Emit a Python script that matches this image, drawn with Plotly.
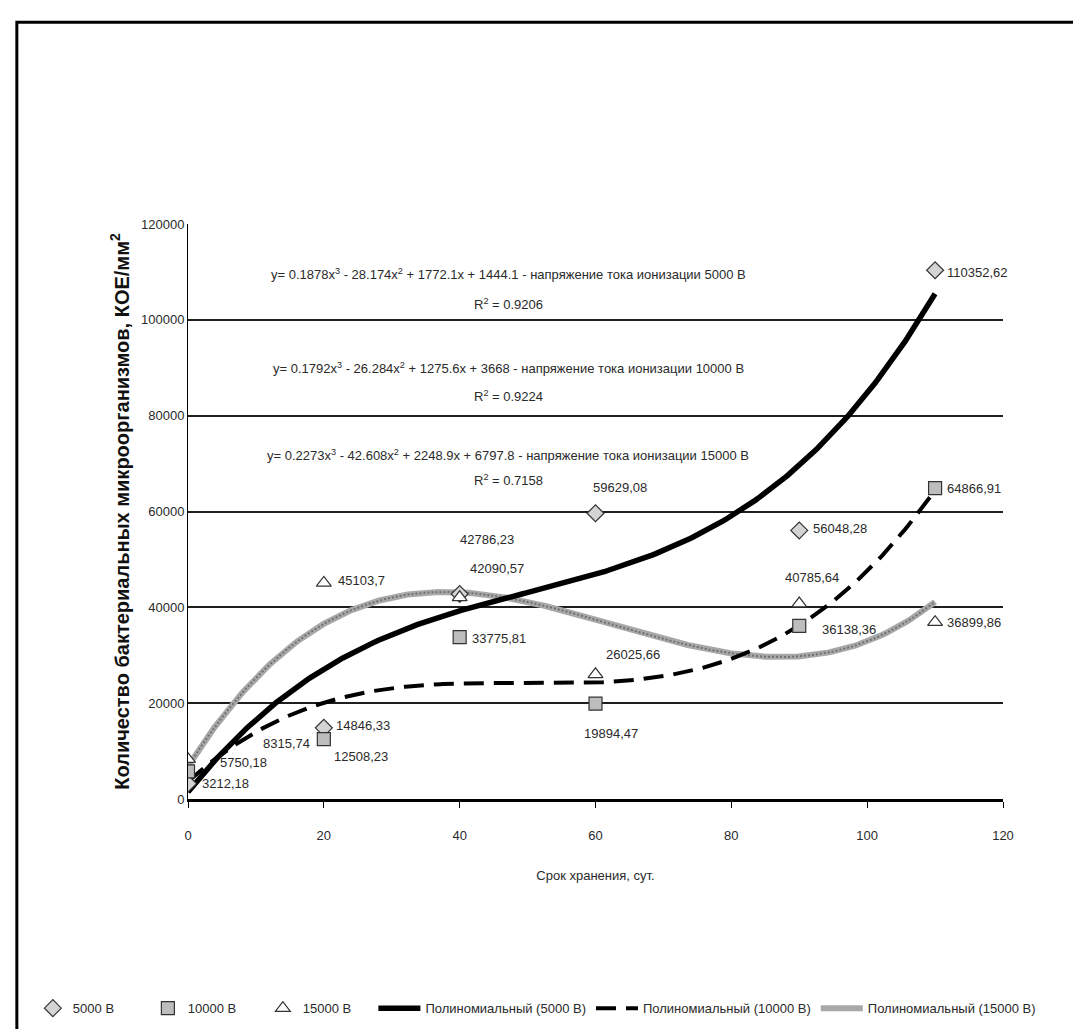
import numpy as np
import plotly.graph_objects as go

# ---------------- data ----------------
days = [0, 20, 40, 60, 90, 110]
y_5000 = [3212.18, 14846.33, 42786.23, 59629.08, 56048.28, 110352.62]
y_10000 = [5750.18, 12508.23, 33775.81, 19894.47, 36138.36, 64866.91]
y_15000 = [8315.74, 45103.7, 42090.57, 26025.66, 40785.64, 36899.86]

# printed trend-line coefficients (x^3, x^2, x, const) and R^2
coef_5000 = [0.1878, -28.174, 1772.1, 1444.1]
coef_10000 = [0.1792, -26.284, 1275.6, 3668]
coef_15000 = [0.2273, -42.608, 2248.9, 6797.8]
r2_values = ["0.9206", "0.9224", "0.7158"]
coef_text = [
    ("0.1878", "28.174", "1772.1", "1444.1", "5000"),
    ("0.1792", "26.284", "1275.6", "3668", "10000"),
    ("0.2273", "42.608", "2248.9", "6797.8", "15000"),
]

series_names = ["5000 В", "10000 В", "15000 В"]
trend_names = ["Полиномиальный (5000 В)", "Полиномиальный (10000 В)", "Полиномиальный (15000 В)"]
x_ticks = [0, 20, 40, 60, 80, 100, 120]
y_ticks = [0, 20000, 40000, 60000, 80000, 100000, 120000]

FONT = "Liberation Sans, Arial, sans-serif"
TXT = "#2a2a2a"

fig = go.Figure()

# ---------------- trend lines (drawn first, under markers) ----------------
xs = np.linspace(0, 110, 300)
fig.add_trace(go.Scatter(x=xs, y=np.polyval(coef_15000, xs), mode="lines",
                         name=trend_names[2], legend="legend2", legendrank=6,
                         line=dict(color="#a8a8a8", width=6)))
fig.add_trace(go.Scatter(x=xs, y=np.polyval(coef_15000, xs), mode="lines",
                         showlegend=False, hoverinfo="skip",
                         line=dict(color="#707070", width=2, dash="2px,2px")))
fig.add_trace(go.Scatter(x=xs, y=np.polyval(coef_10000, xs), mode="lines",
                         name=trend_names[1], legend="legend2", legendrank=5,
                         line=dict(color="black", width=4, dash="20px,10px")))
fig.add_trace(go.Scatter(x=xs, y=np.polyval(coef_5000, xs), mode="lines",
                         name=trend_names[0], legend="legend2", legendrank=4,
                         line=dict(color="black", width=5.5)))

# ---------------- data markers ----------------
fig.add_trace(go.Scatter(x=days, y=y_5000, mode="markers", name=series_names[0], legendrank=1,
                         marker=dict(symbol="diamond", size=13, color="#d4d4d4",
                                     line=dict(color="#333333", width=1.2))))
fig.add_trace(go.Scatter(x=days, y=y_10000, mode="markers", name=series_names[1], legendrank=2,
                         marker=dict(symbol="square", size=13, color="#bdbdbd",
                                     line=dict(color="#333333", width=1.2))))
fig.add_trace(go.Scatter(x=days, y=y_15000, mode="markers", name=series_names[2], legendrank=3,
                         marker=dict(symbol="triangle-up", size=13, color="#ffffff",
                                     line=dict(color="#333333", width=1.2))))

# ---------------- data labels ----------------
def fmt(v):
    return str(v).replace(".", ",")

# pixel offsets (xshift, yshift) for each label, left anchored
offs_5000 = [(12, 0), (10, 2), (-2, 54), (-5, 26), (12, 2), (10, -2)]
offs_10000 = [(30, 9), (8, -17), (10, -1), (-14, -30), (21, -4), (10, 0)]
offs_15000 = [(73, 16), (12, 2), (8, 29), (8, 20), (-16, 26), (10, 0)]

annotations = []
for ys, offs in ((y_5000, offs_5000), (y_10000, offs_10000), (y_15000, offs_15000)):
    for xv, yv, (dx, dy) in zip(days, ys, offs):
        annotations.append(dict(x=xv, y=yv, xref="x", yref="y", text=fmt(yv), showarrow=False,
                                xanchor="left", yanchor="middle", xshift=dx, yshift=dy,
                                font=dict(family=FONT, size=13, color=TXT)))

# ---------------- equation texts ----------------
eq_y = [(0.930, 0.878), (0.767, 0.718), (0.598, 0.554)]
for (a, b, c, d, v), r2, (yl, yr) in zip(coef_text, r2_values, eq_y):
    annotations.append(dict(x=0.393, y=yl, xref="paper", yref="paper", showarrow=False,
                            text=f"y= {a}x<sup>3</sup> - {b}x<sup>2</sup> + {c}x + {d} - напряжение тока ионизации {v} В",
                            font=dict(family=FONT, size=13, color=TXT)))
    annotations.append(dict(x=0.393, y=yr, xref="paper", yref="paper", showarrow=False,
                            text=f"R<sup>2</sup> = {r2}",
                            font=dict(family=FONT, size=13, color=TXT)))

fig.update_layout(
    width=1081, height=1029,
    margin=dict(l=180, r=86, t=216, b=238, autoexpand=False),
    paper_bgcolor="white", plot_bgcolor="white",
    font=dict(family=FONT, size=13, color=TXT),
    annotations=annotations,
    showlegend=True,
    legend=dict(orientation="h", xref="container", yref="container",
                x=0.023, y=0.028, xanchor="left", yanchor="middle",
                font=dict(family=FONT, size=13, color=TXT), itemwidth=30,
                entrywidth=70, entrywidthmode="pixels",
                bgcolor="rgba(0,0,0,0)", traceorder="normal"),
    legend2=dict(orientation="h", xref="container", yref="container",
                 x=0.338, y=0.028, xanchor="left", yanchor="middle",
                 font=dict(family=FONT, size=13, color=TXT), itemwidth=42,
                 bgcolor="rgba(0,0,0,0)", traceorder="normal"),
    shapes=[dict(type="rect", xref="paper", yref="paper",
                 x0=-0.21, x1=1.13, y0=-0.45, y1=1.351,
                 line=dict(color="black", width=3))],
    xaxis=dict(range=[0, 120], tickvals=x_ticks, ticks="outside", ticklen=6,
               tickcolor="black", showline=True, linecolor="black", linewidth=3,
               showgrid=False, zeroline=False, ticklabelstandoff=16,
               tickfont=dict(family=FONT, size=13, color=TXT),
               title=dict(text="Срок хранения, сут.", standoff=30,
                          font=dict(family=FONT, size=13, color=TXT))),
    yaxis=dict(range=[0, 120000], tickvals=y_ticks, tickformat="d",
               showgrid=True, gridcolor="#1e1e1e", gridwidth=2,
               showline=True, linecolor="black", linewidth=1, zeroline=False,
               ticks="", tickfont=dict(family=FONT, size=13, color=TXT),
               title=dict(text="Количество бактериальных микроорганизмов, КОЕ/мм<sup>2</sup>",
                          standoff=6,
                          font=dict(family=FONT, size=20, color="#111111", weight="bold"))),
)

fig.write_html("out.html")
